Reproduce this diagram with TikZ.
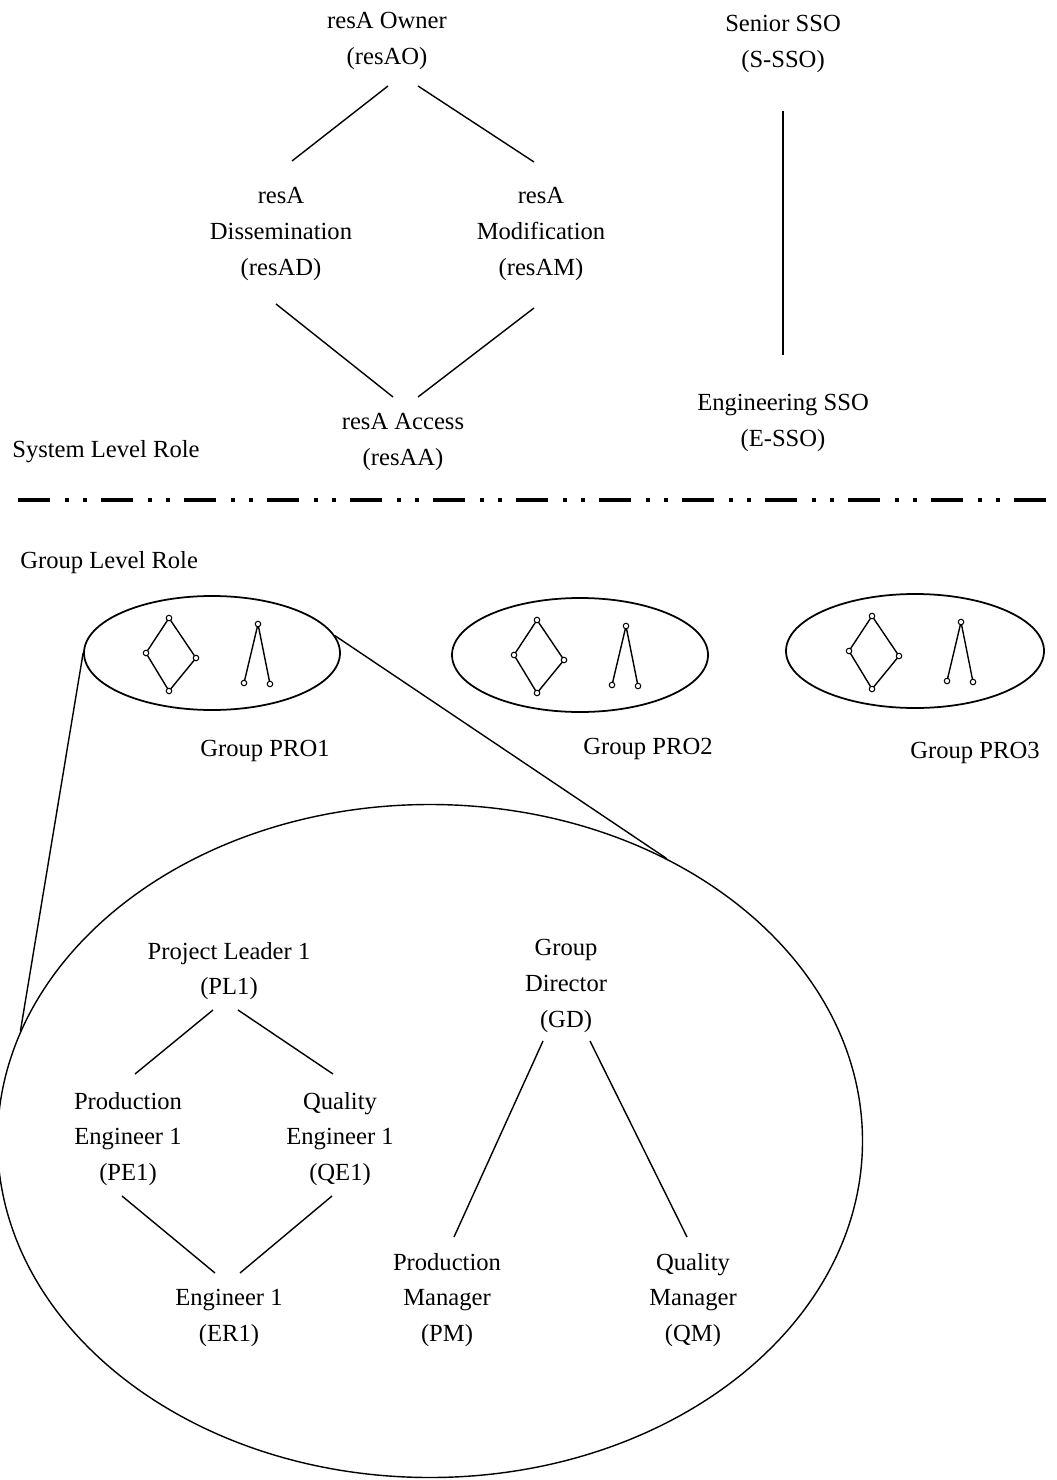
\documentclass[tikz,border=0pt]{standalone}
\usepackage{fontspec}
\setmainfont{Liberation Serif}
\usepackage{tikz}
\usetikzlibrary{shapes.geometric, calc}
\tikzstyle{role} = [align=center, inner sep=0pt, font=\fontsize{14}{20.4}\selectfont]
\tikzstyle{label} = [inner sep=0pt, font=\fontsize{14}{20.4}\selectfont]
\tikzstyle{link} = [line width=0.8pt]
\tikzstyle{grp} = [ellipse, draw=black, line width=1pt, inner sep=0pt, minimum width=5.12cm, minimum height=2.28cm]
\tikzstyle{zoomell} = [ellipse, draw=black, line width=0.8pt, inner sep=0pt, minimum width=17.3cm, minimum height=13.46cm]
\tikzstyle{divider} = [line width=2.8pt, dash pattern=on 0.64cm off 0.3cm on 0.08cm off 0.28cm on 0.08cm off 0.28cm]
\tikzstyle{dot} = [circle, draw=black, fill=white, line width=0.6pt, inner sep=0pt, minimum size=0.11cm]
\tikzset{minilattice/.pic={
  \draw [line width=0.8pt] (-0.86,0.70) -- (-1.32,0) -- (-0.86,-0.76) -- (-0.32,-0.10) -- cycle;
  \draw [line width=0.8pt] (0.64,-0.60) -- (0.92,0.58) -- (1.16,-0.62);
  \foreach \p in {(-0.86,0.70),(-1.32,0),(-0.86,-0.76),(-0.32,-0.10),(0.92,0.58),(0.64,-0.60),(1.16,-0.62)}
    \node [dot] at \p {};
}}

\begin{document}
\begin{tikzpicture}
\useasboundingbox (0,0) rectangle (21.12,-29.6);
% system level
\node (resAO) [role, xshift=7.74cm, yshift=-0.82cm] {resA Owner\\(resAO)};
\node (sSSO) [role, xshift=15.66cm, yshift=-0.88cm] {Senior SSO\\(S-SSO)};
\node (resAD) [role, xshift=5.62cm, yshift=-4.68cm] {resA\\Dissemination\\(resAD)};
\node (resAM) [role, xshift=10.82cm, yshift=-4.68cm] {resA\\Modification\\(resAM)};
\node (resAA) [role, xshift=8.06cm, yshift=-8.84cm] {resA Access\\(resAA)};
\node (eSSO) [role, xshift=15.66cm, yshift=-8.46cm] {Engineering SSO\\(E-SSO)};
\node (sysrole) [label, anchor=west] at (0.24,-9.04) {System Level Role};

\draw [link] ($(resAO)+(0.02,-0.9)$) -- ($(resAD)+(0.22,1.46)$);
\draw [link] ($(resAO)+(0.62,-0.9)$) -- ($(resAM)+(-0.14,1.44)$);
\draw [link] ($(resAD)+(-0.1,-1.4)$) -- ($(resAA)+(-0.2,0.9)$);
\draw [link] ($(resAM)+(-0.14,-1.48)$) -- ($(resAA)+(0.3,0.9)$);
\draw [link] ($(sSSO)+(0,-1.34)$) -- ($(eSSO)+(0,1.36)$);

% divider
\coordinate (divL) at (0.36,-10.0);
\coordinate (divR) at (21.2,-10.0);
\draw [divider] (divL) -- (divR);

% group level
\node (grprole) [label, anchor=west] at (0.4,-11.26) {Group Level Role};
\node (pro1) [grp, xshift=4.24cm, yshift=-13.06cm] {};
\node (pro2) [grp, xshift=11.6cm, yshift=-13.1cm] {};
\node (pro3) [grp, minimum width=5.16cm, xshift=18.3cm, yshift=-13.02cm] {};
\pic at (pro1) {minilattice};
\pic at (pro2) {minilattice};
\pic at (pro3) {minilattice};
\node (pro1lbl) [label, xshift=5.3cm, yshift=-15.02cm] {Group PRO1};
\node (pro2lbl) [label, xshift=12.96cm, yshift=-14.98cm] {Group PRO2};
\node (pro3lbl) [label, xshift=19.5cm, yshift=-15.06cm] {Group PRO3};

% zoomed group
\node (zoom) [zoomell, xshift=8.6cm, yshift=-22.82cm] {};
\draw [link] (pro1.west) -- (zoom.165);
\draw [link] (pro1.8) -- (zoom.50);

\node (PL1) [role, xshift=4.58cm, yshift=-19.42cm] {Project Leader 1\\(PL1)};
\node (PE1) [role, xshift=2.56cm, yshift=-22.78cm] {Production\\Engineer 1\\(PE1)};
\node (QE1) [role, xshift=6.8cm, yshift=-22.78cm] {Quality\\Engineer 1\\(QE1)};
\node (ER1) [role, xshift=4.58cm, yshift=-26.36cm] {Engineer 1\\(ER1)};
\node (GD) [role, xshift=11.32cm, yshift=-19.72cm] {Group\\Director\\(GD)};
\node (PM) [role, xshift=8.94cm, yshift=-26.0cm] {Production\\Manager\\(PM)};
\node (QM) [role, xshift=13.86cm, yshift=-26.0cm] {Quality\\Manager\\(QM)};

\draw [link] ($(PL1)+(-0.32,-0.78)$) -- ($(PE1)+(0.14,1.3)$);
\draw [link] ($(PL1)+(0.18,-0.78)$) -- ($(QE1)+(-0.14,1.3)$);
\draw [link] ($(PE1)+(-0.12,-1.14)$) -- ($(ER1)+(-0.28,0.9)$);
\draw [link] ($(QE1)+(-0.16,-1.14)$) -- ($(ER1)+(0.22,0.9)$);
\draw [link] ($(GD)+(-0.46,-1.1)$) -- ($(PM)+(0.14,1.26)$);
\draw [link] ($(GD)+(0.48,-1.1)$) -- ($(QM)+(-0.12,1.26)$);
\end{tikzpicture}
\end{document}
